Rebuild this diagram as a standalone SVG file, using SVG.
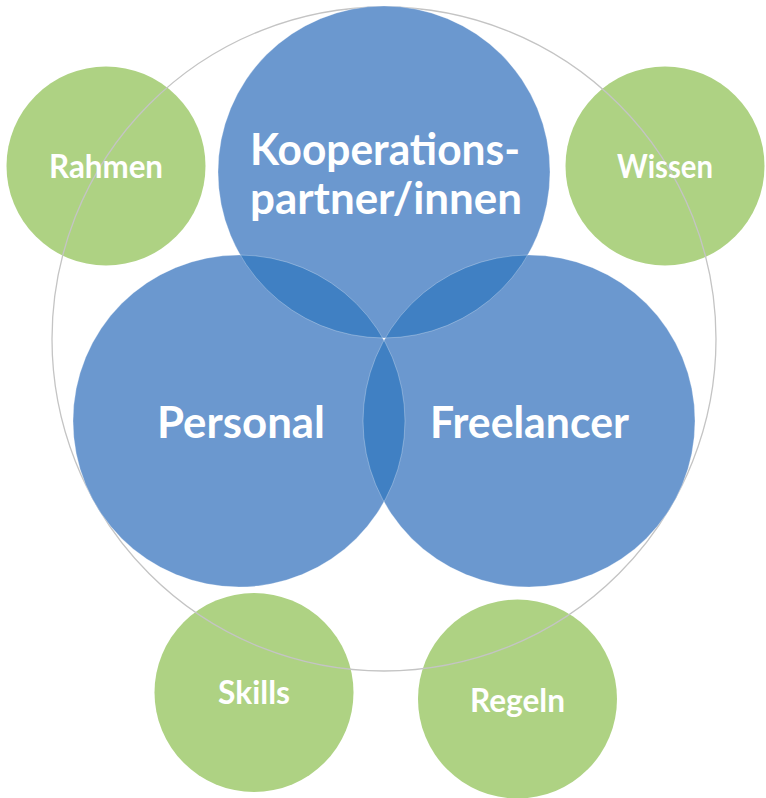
<svg xmlns="http://www.w3.org/2000/svg" width="766" height="798" viewBox="0 0 766 798">
<style>
.green{fill:#aed283}
.blue{fill:#6b98cf}
.lens{fill:#4080c3}
.seam{fill:none;stroke:#ffffff;stroke-opacity:0.35;stroke-width:0.8}
.ring{fill:none;stroke:#c4c4c4;stroke-width:1.3}
.t{font-family:Lato,"Open Sans","Liberation Sans",sans-serif;font-weight:bold;fill:#ffffff;text-anchor:middle}
.big{font-size:44px}
.small{font-size:32px}
</style>
<defs>
<clipPath id="cTop"><circle cx="384" cy="172" r="166"/></clipPath>
<clipPath id="cLeft"><circle cx="239" cy="421" r="166"/></clipPath>
</defs>
<rect width="766" height="798" fill="#ffffff"/>
<g id="rahmen"><circle class="green" cx="106" cy="166" r="99.5"/></g>
<g id="wissen"><circle class="green" cx="665" cy="166" r="99.5"/></g>
<g id="skills"><circle class="green" cx="254" cy="692.5" r="99.5"/></g>
<g id="regeln"><circle class="green" cx="517.5" cy="699" r="99.5"/></g>
<g id="outer-ring"><circle class="ring" cx="384" cy="339" r="332"/></g>
<g id="kooperationspartner"><circle class="blue" cx="384" cy="172" r="166"/></g>
<g id="personal"><circle class="blue" cx="239" cy="421" r="166"/></g>
<g id="freelancer"><circle class="blue" cx="529" cy="421" r="166"/></g>
<g id="overlaps">
<circle class="lens" cx="239" cy="421" r="166" clip-path="url(#cTop)"/>
<circle class="lens" cx="529" cy="421" r="166" clip-path="url(#cTop)"/>
<circle class="lens" cx="529" cy="421" r="166" clip-path="url(#cLeft)"/>
<circle class="seam" cx="384" cy="172" r="166"/>
<circle class="seam" cx="239" cy="421" r="166"/>
<circle class="seam" cx="529" cy="421" r="166"/>
</g>
<g id="labels">
<text class="t big" x="385" y="165" textLength="270" lengthAdjust="spacingAndGlyphs">Kooperations-</text>
<text class="t big" x="386" y="214" textLength="272" lengthAdjust="spacingAndGlyphs">partner/innen</text>
<text class="t big" x="241" y="438" textLength="168" lengthAdjust="spacingAndGlyphs">Personal</text>
<text class="t big" x="529.5" y="438" textLength="199" lengthAdjust="spacingAndGlyphs">Freelancer</text>
<text class="t small" x="106" y="178" textLength="114" lengthAdjust="spacingAndGlyphs">Rahmen</text>
<text class="t small" x="665" y="178" textLength="96" lengthAdjust="spacingAndGlyphs">Wissen</text>
<text class="t small" x="254" y="704" textLength="72" lengthAdjust="spacingAndGlyphs">Skills</text>
<text class="t small" x="517.5" y="712" textLength="95" lengthAdjust="spacingAndGlyphs">Regeln</text>
</g>
</svg>
